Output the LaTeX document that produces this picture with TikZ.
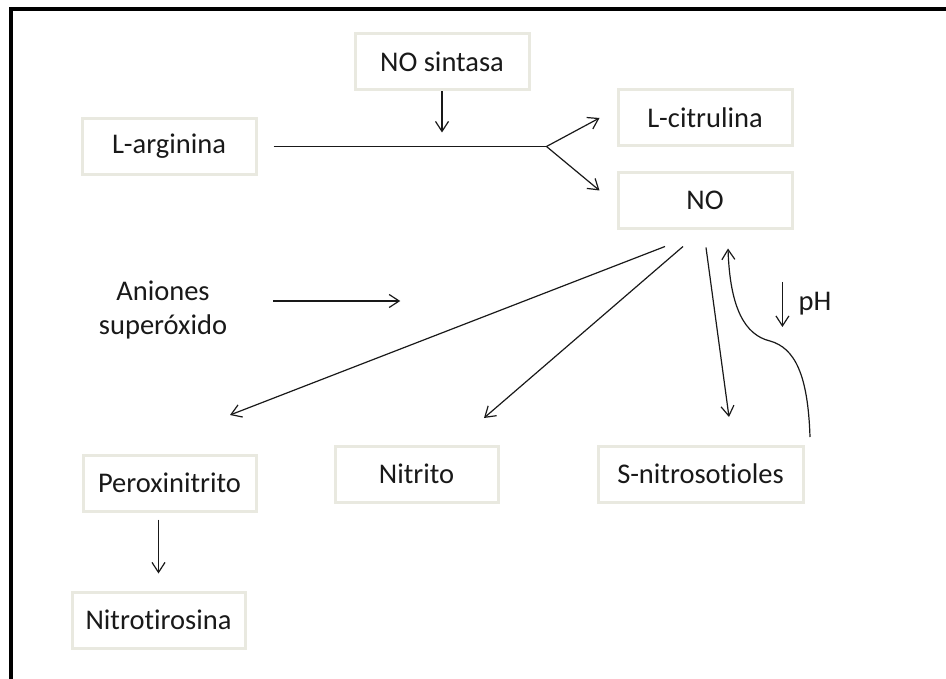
\documentclass[tikz,border=0pt]{standalone}
\usepackage{fontspec}
\setmainfont[Ligatures=NoCommon]{Carlito}
\usetikzlibrary{arrows.meta}
\definecolor{boxline}{RGB}{233,233,224}
\definecolor{ink}{RGB}{25,25,25}
\begin{document}
\begin{tikzpicture}[x=1pt,y=-1pt,
  every node/.style={font=\fontsize{28.5}{34}\selectfont, text=ink, inner sep=0pt},
  box/.style={draw=boxline, line width=3pt, minimum width=#1, minimum height=56pt},
  box/.default=174pt,
  ln/.style={draw=ink, line width=1.2pt},
  arr/.style={ln, -{Straight Barb[length=10pt,width=13pt,line width=1.2pt]}}]

\useasboundingbox (0,0) rectangle (946,679);

% outer frame, open towards the right and bottom
\draw[line width=4pt, line join=miter] (10.5,690) -- (10.5,9.5) -- (960,9.5);

% substances
\node[box] (larg)   at (169,146.5) {L-arginina};
\node[box] (nos)    at (442,62)    {NO sintasa};
\node[box] (lcit)   at (705,118)   {L-citrulina};
\node[box] (no)     at (705,200.5) {NO};
\node[box=173pt] (perox)  at (169.5,483) {Peroxinitrito};
\node[box=173pt] (nitrot) at (158.5,620) {Nitrotirosina};
\node[box=163pt] (nitrito) at (416.5,474) {Nitrito};
\node[box=205pt] (snit)   at (700.5,474) {S-nitrosotioles};
\node[align=center] (anion) at (163,310) {Aniones\\superóxido};
\node (ph) at (815,304) {pH};

% synthesis of NO from L-arginine
\coordinate (branch) at ([xshift=289pt]larg.east);
\draw[arr] (nos.south) -- +(0,41);
\draw[ln]  ([xshift=16pt]larg.east) -- (branch);
\draw[arr] (branch) -- ([xshift=-17pt]lcit.west);
\draw[arr] (branch) -- ([xshift=-17pt,yshift=10pt]no.west);

% superoxide anions
\draw[arr] ([xshift=46pt,yshift=9pt]anion.east) -- +(127,0);

% fates of NO
\draw[arr] ([xshift=-40pt,yshift=-16.5pt]no.south) -- ([xshift=60.5pt,yshift=38.5pt]perox.north);
\draw[arr] ([xshift=-22pt,yshift=-16.5pt]no.south) -- ([xshift=67.5pt,yshift=26.5pt]nitrito.north);
\draw[arr] ([xshift=1pt,yshift=-17.5pt]no.south) -- ([xshift=28.5pt,yshift=27.5pt]snit.north);

% release of NO from S-nitrosothiols at low pH
\draw[arr] ([xshift=109.5pt,yshift=7.5pt]snit.north)
  .. controls +(-2,-62) and +(25,7) .. (770,341)
  .. controls +(-25,-6) and +(2,60) .. ([xshift=23pt,yshift=-18.5pt]no.south);
\draw[arr] ([xshift=-16pt,yshift=22pt]ph.west) -- +(0,45);

% peroxynitrite to nitrotyrosine
\draw[arr] ([yshift=71pt]nitrot.north) -- ([yshift=17pt]nitrot.north);
\end{tikzpicture}
\end{document}
